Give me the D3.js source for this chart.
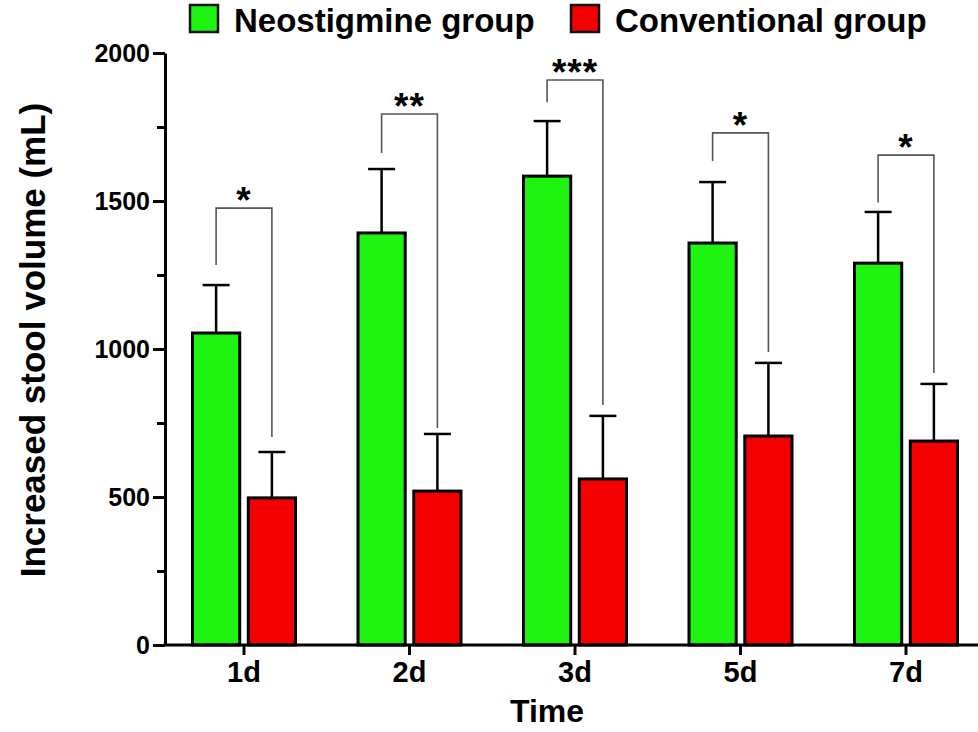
<!DOCTYPE html>
<html>
<head>
<meta charset="utf-8">
<script src="https://cdn.jsdelivr.net/npm/d3@7"></script>
<style>
  body { margin: 0; background: #fff; }
  text { font-family: "Liberation Sans", Arial, sans-serif; font-weight: bold; }
</style>
</head>
<body>
<div id="chart"></div>
<script>
// Data
const days = ["1d", "2d", "3d", "5d", "7d"];
const groups = ["Neostigmine group", "Conventional group"];
const neoMean = [1054, 1392, 1584, 1358, 1290];
const neoSD = [162, 216, 186, 206, 173];
const convMean = [497, 520, 561, 706, 689];
const convSD = [155, 193, 213, 247, 193];
// significance brackets (in mL units)
const bracketTop = [1476, 1794, 1909, 1730, 1655];
const bracketLeftEnd = [1284, 1662, 1834, 1635, 1495];
const bracketRightEnd = [703, 733, 811, 990, 919];
const stars = ["*", "**", "***", "*", "*"];
const yTicks = [0, 500, 1000, 1500, 2000];
const yMinorTicks = [250, 750, 1250, 1750];

const colors = { "Neostigmine group": "#1ff312", "Conventional group": "#f50000" };

const width = 978, height = 732;
const axisX = 165, axisY0 = 645, axisY1 = 53;

const svg = d3.select("#chart")
    .append("svg")
    .attr("width", width)
    .attr("height", height);

// Scales
const x = d3.scaleBand()
    .domain(days)
    .range([161.25, 988.75]);

const xInner = d3.scaleBand()
    .domain(groups)
    .range([0, 106])
    .paddingInner(0.1);

const y = d3.scaleLinear()
    .domain([0, 2000])
    .range([axisY0, axisY1]);

// rows for bars
const rows = [];
days.forEach((d, i) => {
    rows.push({ day: d, group: groups[0], mean: neoMean[i], sd: neoSD[i] });
    rows.push({ day: d, group: groups[1], mean: convMean[i], sd: convSD[i] });
});
const barX = d => x(d.day) + x.bandwidth() / 2 - 53 + xInner(d.group);
const barMid = d => barX(d) + xInner.bandwidth() / 2;

// Error bars (drawn first so bars sit on top)
svg.selectAll(".err")
    .data(rows)
    .enter()
    .append("line")
    .attr("x1", barMid).attr("x2", barMid)
    .attr("y1", d => y(d.mean)).attr("y2", d => y(d.mean + d.sd))
    .attr("stroke", "#000").attr("stroke-width", 2.5);

svg.selectAll(".cap")
    .data(rows)
    .enter()
    .append("line")
    .attr("x1", d => barMid(d) - 13.5).attr("x2", d => barMid(d) + 13.5)
    .attr("y1", d => y(d.mean + d.sd)).attr("y2", d => y(d.mean + d.sd))
    .attr("stroke", "#000").attr("stroke-width", 2.5);

// Bars
svg.selectAll(".bar")
    .data(rows)
    .enter()
    .append("rect")
    .attr("x", d => barX(d) + 1.5)
    .attr("y", d => y(d.mean))
    .attr("width", xInner.bandwidth() - 3)
    .attr("height", d => y(0) - y(d.mean))
    .attr("fill", d => colors[d.group])
    .attr("stroke", "#000")
    .attr("stroke-width", 3);

// Significance brackets
const brackets = days.map((d, i) => ({
    day: d, top: bracketTop[i], left: bracketLeftEnd[i], right: bracketRightEnd[i], label: stars[i]
}));
const bx1 = d => x(d.day) + x.bandwidth() / 2 - 53 + xInner(groups[0]) + xInner.bandwidth() / 2;
const bx2 = d => x(d.day) + x.bandwidth() / 2 - 53 + xInner(groups[1]) + xInner.bandwidth() / 2;

svg.selectAll(".bracket")
    .data(brackets)
    .enter()
    .append("path")
    .attr("d", d => `M${bx1(d)},${y(d.left)}V${y(d.top)}H${bx2(d)}V${y(d.right)}`)
    .attr("fill", "none")
    .attr("stroke", "#555")
    .attr("stroke-width", 1.6);

svg.selectAll(".stars")
    .data(brackets)
    .enter()
    .append("text")
    .attr("x", d => (bx1(d) + bx2(d)) / 2)
    .attr("y", d => y(d.top) + 5)
    .attr("text-anchor", "middle")
    .attr("letter-spacing", "1px")
    .style("font-size", "37px")
    .attr("fill", "#000")
    .text(d => d.label);

// Y axis
const yAxis = svg.append("g")
    .attr("transform", `translate(${axisX},0)`)
    .call(d3.axisLeft(y).tickValues(yTicks).tickFormat(d3.format("d"))
        .tickSize(12).tickSizeOuter(0).tickPadding(3));
yAxis.select(".domain").attr("stroke-width", 3);
yAxis.selectAll(".tick line").attr("stroke-width", 3);
yAxis.selectAll(".tick text").style("font-size", "25px").attr("fill", "#000");

const yMinor = svg.append("g")
    .attr("transform", `translate(${axisX},0)`)
    .call(d3.axisLeft(y).tickValues(yMinorTicks).tickSize(8).tickFormat(""));
yMinor.select(".domain").remove();
yMinor.selectAll(".tick line").attr("stroke-width", 3);

// X axis
const xAxis = svg.append("g")
    .attr("transform", `translate(0,${axisY0})`)
    .call(d3.axisBottom(x).tickSize(10).tickSizeOuter(0).tickPadding(6));
xAxis.select(".domain").remove();
xAxis.selectAll(".tick line").attr("stroke-width", 3);
xAxis.selectAll(".tick text").style("font-size", "29px").attr("fill", "#000");

svg.append("line")
    .attr("x1", axisX - 1.5).attr("x2", width)
    .attr("y1", axisY0).attr("y2", axisY0)
    .attr("stroke", "#000").attr("stroke-width", 3);

// Axis titles
svg.append("text")
    .attr("x", 547).attr("y", 722)
    .attr("text-anchor", "middle")
    .style("font-size", "32px")
    .text("Time");

svg.append("text")
    .attr("transform", "translate(45,340) rotate(-90)")
    .attr("text-anchor", "middle")
    .style("font-size", "35px")
    .text("Increased stool volume (mL)");

// Legend
const legendX = [190, 571];
const legend = svg.selectAll(".legend")
    .data(groups)
    .enter()
    .append("g")
    .attr("transform", (d, i) => `translate(${legendX[i]},5)`);
legend.append("rect")
    .attr("width", 28).attr("height", 27)
    .attr("fill", d => colors[d])
    .attr("stroke", "#111").attr("stroke-width", 2.5);
legend.append("text")
    .attr("x", 44).attr("y", 27)
    .style("font-size", "33px")
    .text(d => d);
</script>
</body>
</html>
